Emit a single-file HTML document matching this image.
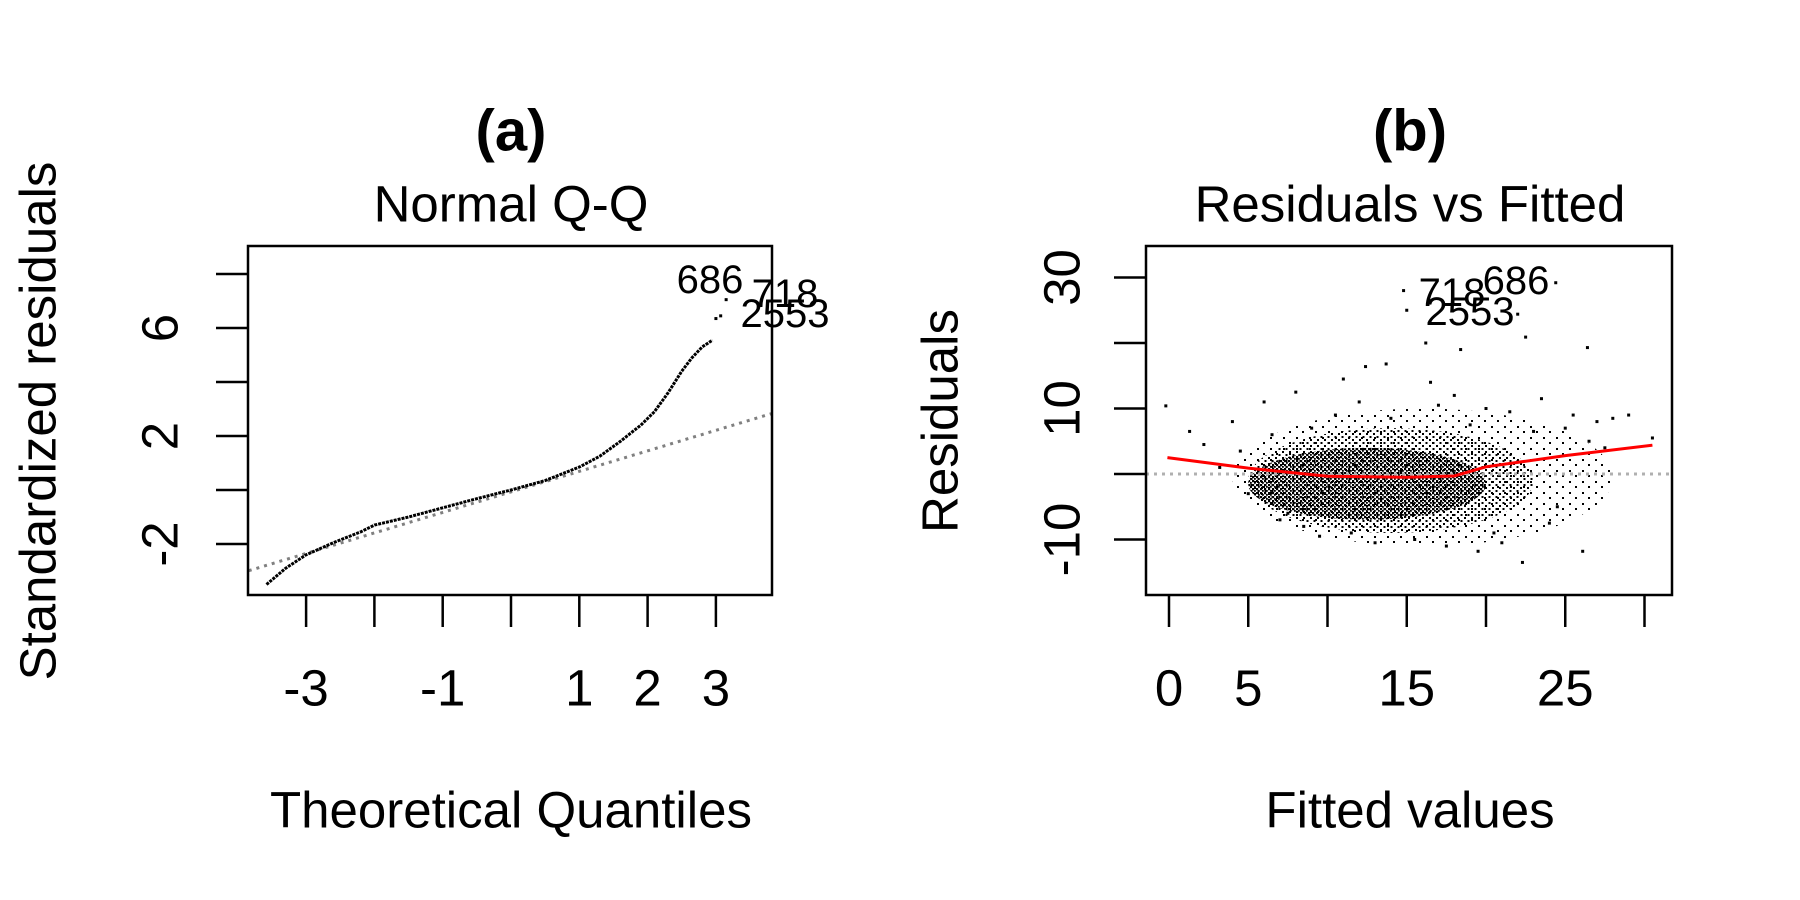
<!DOCTYPE html>
<html><head><meta charset="utf-8"><style>
html,body{margin:0;padding:0;background:#fff}
svg{display:block;font-family:"Liberation Sans",Arial,sans-serif}
</style></head><body>
<svg id="fig" width="1800" height="900" viewBox="0 0 1800 900" xmlns="http://www.w3.org/2000/svg">
<defs>
<pattern id="dots" width="4" height="4" patternUnits="userSpaceOnUse">
<rect x="0" y="0" width="2.2" height="2.2" fill="#000"/><rect x="2" y="2" width="1.8" height="1.8" fill="#000"/>
</pattern>
<pattern id="dots2" width="7" height="6" patternUnits="userSpaceOnUse">
<rect x="1" y="1" width="2" height="2" fill="#000"/><rect x="4.5" y="4" width="2" height="2" fill="#000"/>
</pattern>
<pattern id="dots3" width="13" height="11" patternUnits="userSpaceOnUse">
<rect x="2" y="2" width="2" height="2" fill="#000"/><rect x="9" y="8" width="2" height="2" fill="#000"/>
</pattern>
</defs>
<g id="pa"></g>
<g id="pb"></g>
</svg>
<script>
// ---- Panel (a) data ----
const qqTheo = [-3.58,-3.3,-3.0,-2.6,-2.2,-2.0,-1.5,-1.0,-0.5,0,0.5,1.0,1.3,1.6,1.9,2.1,2.3,2.5,2.65,2.8,2.95];
const qqResid = [-3.5,-2.9,-2.4,-1.95,-1.55,-1.3,-1.0,-0.66,-0.32,0,0.35,0.85,1.25,1.8,2.4,2.9,3.6,4.4,4.9,5.3,5.55];
const qqOutTheo = [3.0,3.07,3.15];
const qqOutResid = [6.35,6.45,7.05];
const qqXTicks = [-3,-2,-1,0,1,2,3];
const qqXLabels = ["-3","","-1","","1","2","3"];
const qqYTicks = [-2,0,2,4,6,8];
const qqYLabels = ["-2","","2","","6",""];
const qqRef = [-3.84,3.85];
const qqRefSlope = 0.76, qqRefInt = -0.07;
// ---- Panel (b) data ----
const fitX = [14.8,24.4,15.0,22.0,22.5,16.2,18.4,26.4,12.4,13.7,-0.2,26.1,22.3,19.5,1.3,2.2,4.0,28.0,29.0,30.5,6.0,8.0,11.0,16.5,20.0,23.5,25.5,27.0,9.5,13.0,17.5,21.0,24.0,3.2,5.0,7.5,10.5,12.0,14.0,18.0,19.0,21.5,23.0,25.0,26.5,27.5,8.5,9.0,11.5,15.5,17.0,20.5,24.5,6.5,7.0,4.5];
const fitR = [28.0,29.2,25.0,24.4,20.9,20.0,19.0,19.3,16.4,16.8,10.4,-11.8,-13.5,-11.8,6.5,4.5,8.0,8.5,9.0,5.5,11.0,12.5,14.5,14.0,10.0,11.5,9.0,8.0,-9.5,-10.5,-11.0,-10.5,-7.5,1.0,-3.0,-6.0,9.0,11.0,8.5,12.0,7.5,9.5,6.5,7.0,5.0,4.0,-8.0,7.0,-9.0,-10.0,10.5,-9.0,-5.0,6.0,-7.0,3.5];
const lowX = [-0.1,5,10,15,18,20,25,30.5];
const lowY = [2.5,0.9,-0.35,-0.5,-0.3,1.1,2.8,4.4];
const fXTicks = [0,5,10,15,20,25,30];
const fXLabels = ["0","5","","15","","25",""];
const fYTicks = [-10,0,10,20,30];
const fYLabels = ["-10","","10","","30"];

const NS="http://www.w3.org/2000/svg";
function mk(parent,tag,attrs,text){const e=document.createElementNS(NS,tag);for(const k in attrs)e.setAttribute(k,attrs[k]);if(text!==undefined)e.textContent=text;parent.appendChild(e);return e;}
const FS=51, FB=58, FL=40;

// Panel a scales
const ax=v=>511+68.3*v, ay=v=>490-27*v;
const A=document.getElementById('pa');
let t;
t=mk(A,'text',{x:511,y:131,'font-size':FB,'font-weight':'bold','text-anchor':'middle','dominant-baseline':'central'},'(a)');


t=mk(A,'text',{x:511,y:204,'font-size':FS,'text-anchor':'middle','dominant-baseline':'central'},'Normal Q-Q');


t=mk(A,'text',{x:511,y:810,'font-size':FS,'text-anchor':'middle','dominant-baseline':'central'},'Theoretical Quantiles');


t=mk(A,'text',{x:0,y:0,'font-size':FS,'text-anchor':'middle','dominant-baseline':'central',transform:'translate(38,421) rotate(-90)'},'Standardized residuals');


t=mk(A,'line',{x1:ax(qqRef[0]),y1:ay(qqRefInt+qqRefSlope*qqRef[0]),x2:ax(qqRef[1]),y2:ay(qqRefInt+qqRefSlope*qqRef[1]),stroke:'#808080','stroke-width':3,'stroke-dasharray':'3,5'});


t=mk(A,'polyline',{points:qqTheo.map((v,i)=>ax(v)+','+ay(qqResid[i])).join(' '),fill:'none',stroke:'#000','stroke-width':3,'stroke-dasharray':'3,1'});


qqOutTheo.forEach((v,i)=>{const c=mk(A,'rect',{x:ax(v)-1.5,y:ay(qqOutResid[i])-1.5,width:3,height:3,fill:'#000'});

});
[['686',710,280],['718',785,294],['2553',785,314]].forEach(l=>{const e=mk(A,'text',{x:l[1],y:l[2],'font-size':FL,'text-anchor':'middle','dominant-baseline':'central'},l[0]);

});
t=mk(A,'rect',{x:248,y:246,width:524,height:349,fill:'none',stroke:'#000','stroke-width':2.5});


qqXTicks.forEach((v,i)=>{const l=mk(A,'line',{x1:ax(v),y1:595,x2:ax(v),y2:627,stroke:'#000','stroke-width':2.5});


const e=mk(A,'text',{x:ax(v),y:688,'font-size':FS,'text-anchor':'middle','dominant-baseline':'central'},qqXLabels[i]);

});
qqYTicks.forEach((v,i)=>{const l=mk(A,'line',{x1:216,y1:ay(v),x2:248,y2:ay(v),stroke:'#000','stroke-width':2.5});


const e=mk(A,'text',{x:0,y:0,'font-size':FS,'text-anchor':'middle','dominant-baseline':'central',transform:`translate(160,${ay(v)}) rotate(-90)`},qqYLabels[i]);

});

// Panel b scales
const bx=v=>1169+15.85*v, by=v=>474-6.55*v;
const B=document.getElementById('pb');
t=mk(B,'text',{x:1410,y:131,'font-size':FB,'font-weight':'bold','text-anchor':'middle','dominant-baseline':'central'},'(b)');


t=mk(B,'text',{x:1410,y:204,'font-size':FS,'text-anchor':'middle','dominant-baseline':'central'},'Residuals vs Fitted');


t=mk(B,'text',{x:1410,y:810,'font-size':FS,'text-anchor':'middle','dominant-baseline':'central'},'Fitted values');


t=mk(B,'text',{x:0,y:0,'font-size':FS,'text-anchor':'middle','dominant-baseline':'central',transform:'translate(940,421) rotate(-90)'},'Residuals');


t=mk(B,'ellipse',{cx:bx(16),cy:by(-0.5),rx:bx(28)-bx(16),ry:by(-10.5)-by(0),fill:'url(#dots3)'});


t=mk(B,'ellipse',{cx:bx(14),cy:by(-1),rx:bx(23)-bx(14),ry:by(-8)-by(0),fill:'url(#dots2)'});


t=mk(B,'ellipse',{cx:bx(12.5),cy:by(-1.5),rx:bx(20)-bx(12.5),ry:by(-5.5)-by(0),fill:'url(#dots)'});


fitX.forEach((v,i)=>{const c=mk(B,'rect',{x:bx(v)-1.5,y:by(fitR[i])-1.5,width:3,height:3,fill:'#000'});

});
t=mk(B,'line',{x1:1146,y1:by(0),x2:1672,y2:by(0),stroke:'#b0b0b0','stroke-width':3,'stroke-dasharray':'3,5'});


t=mk(B,'polyline',{points:lowX.map((v,i)=>bx(v)+','+by(lowY[i])).join(' '),fill:'none',stroke:'#ff0000','stroke-width':3});


[['718',1452,293],['686',1516,281],['2553',1470,312]].forEach(l=>{const e=mk(B,'text',{x:l[1],y:l[2],'font-size':FL,'text-anchor':'middle','dominant-baseline':'central'},l[0]);

});
t=mk(B,'rect',{x:1146,y:246,width:526,height:349,fill:'none',stroke:'#000','stroke-width':2.5});


fXTicks.forEach((v,i)=>{const l=mk(B,'line',{x1:bx(v),y1:595,x2:bx(v),y2:627,stroke:'#000','stroke-width':2.5});


const e=mk(B,'text',{x:bx(v),y:688,'font-size':FS,'text-anchor':'middle','dominant-baseline':'central'},fXLabels[i]);

});
fYTicks.forEach((v,i)=>{const l=mk(B,'line',{x1:1114,y1:by(v),x2:1146,y2:by(v),stroke:'#000','stroke-width':2.5});


const e=mk(B,'text',{x:0,y:0,'font-size':FS,'text-anchor':'middle','dominant-baseline':'central',transform:`translate(1062,${by(v)}) rotate(-90)`},fYLabels[i]);

});
</script>
</body></html>
